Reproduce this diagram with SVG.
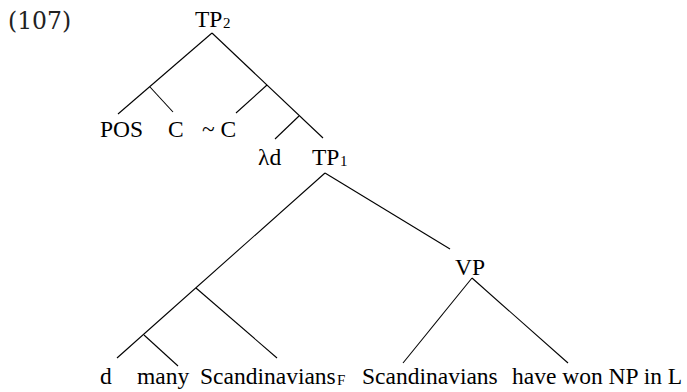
<svg xmlns="http://www.w3.org/2000/svg" width="687" height="392" viewBox="0 0 687 392">
<style>
.t{font-family:"Liberation Serif","Times New Roman",serif;font-size:23.5px;fill:#000}
.s{font-family:"Liberation Serif","Times New Roman",serif;font-size:15px;fill:#000}
.n{font-family:"DejaVu Serif",serif;font-size:23.5px;fill:#222}
#edges line{stroke:#000;stroke-width:1.1;fill:none}
</style>
<rect width="687" height="392" fill="#fff"/>
<text class="n" x="8" y="29">(107)</text>
<g id="edges">
<line x1="212" y1="33" x2="118" y2="114"/>
<line x1="150" y1="87" x2="173" y2="112"/>
<line x1="212" y1="33" x2="323" y2="138"/>
<line x1="267" y1="85" x2="236" y2="113"/>
<line x1="299" y1="116" x2="275" y2="139"/>
<line x1="325" y1="173" x2="117" y2="358"/>
<line x1="196" y1="288" x2="277" y2="358"/>
<line x1="144" y1="335" x2="178" y2="366"/>
<line x1="325" y1="173" x2="450" y2="249"/>
<line x1="472" y1="278" x2="403" y2="363"/>
<line x1="472" y1="278" x2="568" y2="363"/>
</g>
<g id="tp2"><text class="t" x="195" y="27">TP</text><text class="s" x="223" y="28">2</text></g>
<g id="pos"><text class="t" x="100" y="137">POS</text></g>
<g id="c"><text class="t" x="168" y="137">C</text></g>
<g id="notc"><text class="t" x="202" y="137">~ C</text></g>
<g id="lambda"><text class="t" x="258" y="165">λd</text></g>
<g id="tp1"><text class="t" x="312" y="165">TP</text><text class="s" x="340" y="166">1</text></g>
<g id="vp"><text class="t" x="455" y="275">VP</text></g>
<g id="d"><text class="t" x="100" y="384">d</text></g>
<g id="many"><text class="t" x="137" y="384">many</text></g>
<g id="scandF"><text class="t" x="200" y="384">Scandinavians</text><text class="s" x="337" y="385">F</text></g>
<g id="scand"><text class="t" x="362" y="384">Scandinavians</text></g>
<g id="havewon"><text class="t" x="512" y="384">have won NP in L</text></g>
</svg>
